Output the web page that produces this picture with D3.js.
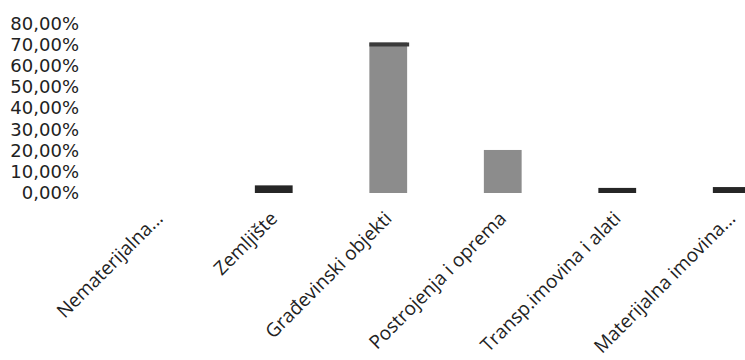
<!DOCTYPE html>
<html><head><meta charset="utf-8">
<script src="https://cdn.jsdelivr.net/npm/d3@7"></script>
<style>body{margin:0;background:#fff}svg{display:block}</style>
</head><body>
<svg id="c" width="745" height="360"></svg>
<script>
const categories = ["Nematerijalna...", "Zemljište", "Građevinski objekti", "Postrojenja i oprema", "Transp.imovina i alati", "Materijalna imovina..."];
const values = [0, 3.6, 71, 20.3, 2.4, 2.8];
const yTicks = [0, 10, 20, 30, 40, 50, 60, 70, 80];

const svg = d3.select("#c");
const x = d3.scaleBand().domain(categories).range([102, 789]).paddingInner(0.67).paddingOuter(0.335);
const y = d3.scaleLinear().domain([0, 80]).range([193, 23.4]);
const font = "'Open Sans', sans-serif";

const fmt = v => v.toFixed(2).replace(".", ",") + "%";
const yAxis = svg.append("g").attr("transform", "translate(86,0)")
  .call(d3.axisLeft(y).tickValues(yTicks).tickFormat(fmt).tickSize(0).tickPadding(7));
yAxis.select(".domain").remove();
yAxis.selectAll("text").attr("font-family", "'DejaVu Sans', sans-serif").attr("font-size", 18).attr("fill", "#222");

const maxV = d3.max(values);
const bars = svg.append("g");
bars.selectAll("rect.bar").data(values).join("rect").attr("class", "bar")
  .attr("x", (d, i) => x(categories[i]))
  .attr("width", x.bandwidth())
  .attr("y", d => y(d))
  .attr("height", d => y(0) - y(d))
  .attr("fill", d => d < 5 ? "#262626" : "#8c8c8c");
bars.selectAll("rect.cap").data(values.filter(v => v === maxV)).join("rect").attr("class", "cap")
  .attr("x", x(categories[values.indexOf(maxV)]))
  .attr("width", x.bandwidth() + 2)
  .attr("y", d => y(d))
  .attr("height", 4)
  .attr("fill", "#3a3a3a");

const xAxis = svg.append("g").attr("transform", "translate(0,193)")
  .call(d3.axisBottom(x).tickSize(0).tickPadding(0));
xAxis.select(".domain").remove();
xAxis.selectAll("text")
  .attr("font-family", font).attr("font-size", 19).attr("fill", "#222")
  .attr("text-anchor", "end")
  .attr("dy", "0.35em")
  .attr("transform", "translate(0,22) rotate(-45)");
</script>
</body></html>
